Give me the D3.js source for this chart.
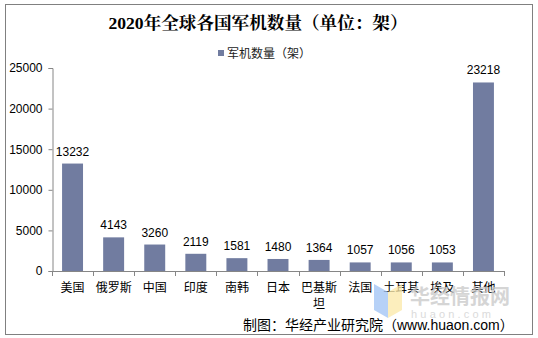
<!DOCTYPE html>
<html><head><meta charset="utf-8">
<script src="https://cdn.jsdelivr.net/npm/d3@7"></script>
<style>body{margin:0;background:#fff}svg{display:block}</style>
</head><body><script>
const categories=["美国","俄罗斯","中国","印度","南韩","日本","巴基斯坦","法国","土耳其","埃及","其他"];
const values=[13232,4143,3260,2119,1581,1480,1364,1057,1056,1053,23218];
const yTicks=[0,5000,10000,15000,20000,25000];
const title="2020年全球各国军机数量（单位：架）";
const seriesName="军机数量（架）";
const source="制图：华经产业研究院（www.huaon.com）";

const W=538,H=338;
const svg=d3.select("body").append("svg").attr("width",W).attr("height",H);
svg.append("rect").attr("x",5.5).attr("y",4.5).attr("width",527).attr("height",330).attr("fill","#fff").attr("stroke","#808080").attr("stroke-width",1);

const x=d3.scaleBand().domain(categories).range([52,504]).paddingInner(0.49).paddingOuter(0.245);
const y=d3.scaleLinear().domain([0,25000]).range([271,68]);
const sans="'Liberation Sans',Arial,'Noto Sans CJK SC',sans-serif";

svg.append("text").attr("x",258).attr("y",29).attr("text-anchor","middle")
 .attr("font-family","'Liberation Serif','Noto Serif CJK SC','Noto Sans CJK SC',serif").attr("font-weight","bold").attr("font-size",17.6).attr("fill","#000").text(title);

// legend
svg.append("rect").attr("x",218).attr("y",50).attr("width",6).attr("height",6).attr("fill","#717ca0");
svg.append("text").attr("x",227).attr("y",58).attr("font-family",sans).attr("font-size",12).attr("fill","#222").text(seriesName);

// y axis
const ya=svg.append("g").attr("transform","translate(52.5,0)").call(d3.axisLeft(y).tickValues(yTicks).tickSize(4).tickPadding(6).tickFormat(d3.format("d")));
ya.select(".domain").attr("stroke","#868686");
ya.selectAll(".tick line").attr("stroke","#868686");
ya.selectAll("text").attr("font-family",sans).attr("font-size",12).attr("fill","#000");

// bars
svg.selectAll(".bar").data(values).enter().append("rect").attr("class","bar")
 .attr("x",(d,i)=>x(categories[i])).attr("y",d=>y(d)).attr("width",x.bandwidth()).attr("height",d=>y(0)-y(d)).attr("fill","#717ca0");

// value labels
svg.selectAll(".vl").data(values).enter().append("text").attr("class","vl")
 .attr("x",(d,i)=>x(categories[i])+x.bandwidth()/2).attr("y",d=>y(d)-8).attr("text-anchor","middle")
 .attr("font-family",sans).attr("font-size",12).attr("fill","#000").text(d=>d);

// x axis
const xa=svg.append("g");
xa.append("line").attr("x1",52).attr("x2",504).attr("y1",271.5).attr("y2",271.5).attr("stroke","#868686");
const bounds=d3.range(categories.length+1).map(i=>52+i*(452/categories.length));
xa.selectAll(".xt").data(bounds).enter().append("line").attr("x1",d=>Math.round(d)+0.5).attr("x2",d=>Math.round(d)+0.5).attr("y1",271).attr("y2",276).attr("stroke","#868686");
const lab=svg.selectAll(".xl").data(categories).enter().append("text").attr("class","xl")
 .attr("x",d=>x(d)+x.bandwidth()/2).attr("y",292).attr("text-anchor","middle")
 .attr("font-family",sans).attr("font-size",12).attr("fill","#000");
lab.each(function(d){
  const t=d3.select(this);
  if(d.length>3){t.append("tspan").attr("x",x(d)+x.bandwidth()/2).text(d.slice(0,3));
    t.append("tspan").attr("x",x(d)+x.bandwidth()/2).attr("dy",16).text(d.slice(3));}
  else t.text(d);
});

// watermark
const wm=svg.append("g").attr("opacity",0.75);
wm.append("polygon").attr("points","374,284 388,292 388,318 374,310").attr("fill","#9ec2f5");
wm.append("polygon").attr("points","388,292 402,284 402,310 388,318").attr("fill","#fbe9a8");
wm.append("text").attr("x",410).attr("y",304).attr("font-family","'Noto Sans CJK SC',sans-serif").attr("font-weight","bold").attr("font-size",20).attr("fill","#c8c8c8").text("华经情报网");
wm.append("text").attr("x",411).attr("y",318).attr("font-family",sans).attr("font-size",11).attr("letter-spacing",3.2).attr("fill","#cfcfcf").text("huaon.com");

svg.append("text").attr("x",243).attr("y",330).attr("font-family",sans).attr("font-size",14).attr("fill","#000").text(source);
</script></body></html>
